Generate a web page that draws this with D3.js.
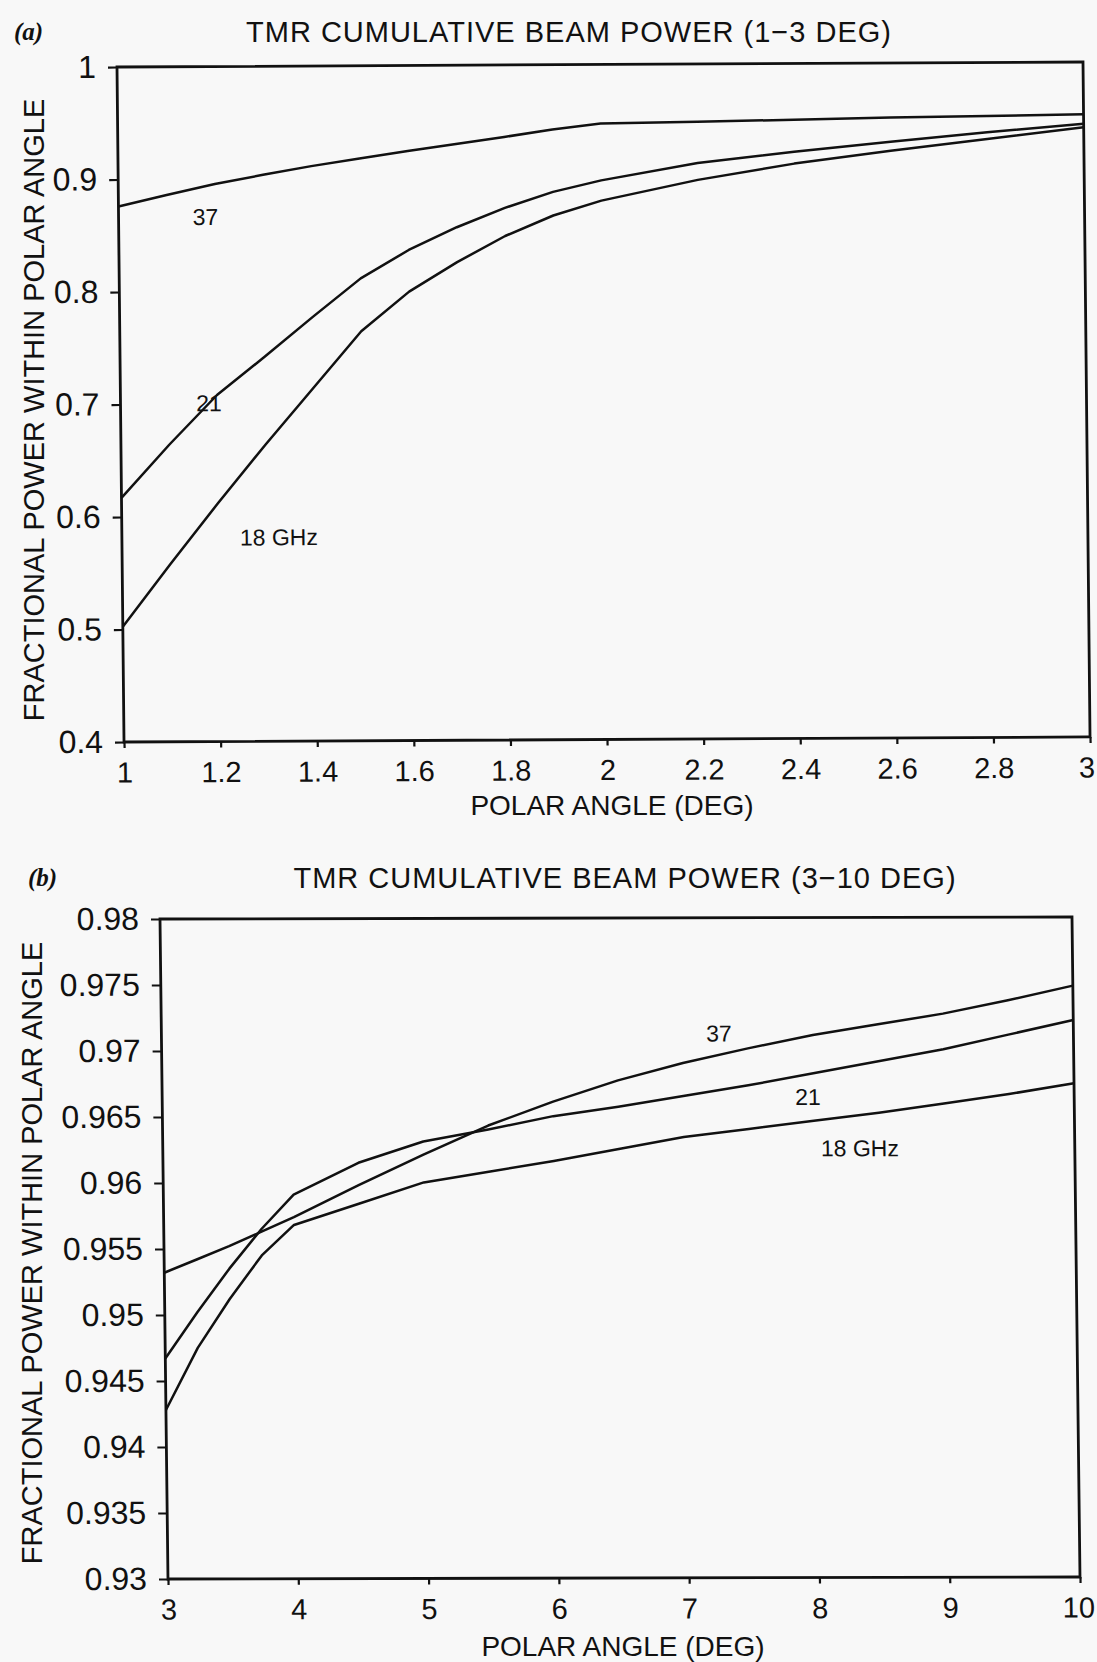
<!DOCTYPE html>
<html>
<head>
<meta charset="utf-8">
<script src="https://cdn.jsdelivr.net/npm/d3@7"></script>
<style>
  body { margin: 0; background: #f8f8f8; }
  svg { display: block; }
  text { font-family: "Liberation Sans", Arial, sans-serif; fill: #111; }
</style>
</head>
<body>
<svg id="fig" width="1097" height="1662"></svg>
<script>
// ---- panel (a): 1-3 deg ----
var anglesA = [1, 1.1, 1.2, 1.3, 1.4, 1.5, 1.6, 1.7, 1.8, 1.9, 2.0, 2.2, 2.4, 2.6, 2.8, 3.0];
var ghz37A = [0.876, 0.886, 0.8955, 0.9035, 0.911, 0.9175, 0.924, 0.930, 0.936, 0.9425, 0.9475, 0.9487, 0.950, 0.9515, 0.9525, 0.9535];
var ghz21A = [0.617, 0.664, 0.708, 0.742, 0.777, 0.811, 0.836, 0.856, 0.873, 0.887, 0.897, 0.912, 0.9216, 0.930, 0.938, 0.945];
var ghz18A = [0.5025, 0.558, 0.612, 0.664, 0.714, 0.764, 0.799, 0.825, 0.848, 0.866, 0.879, 0.897, 0.911, 0.922, 0.932, 0.942];
var xTicksA = [1, 1.2, 1.4, 1.6, 1.8, 2, 2.2, 2.4, 2.6, 2.8, 3];
var yTicksA = [0.4, 0.5, 0.6, 0.7, 0.8, 0.9, 1];
var labelsA = [
  {text: "37", x: 1.18, y: 0.8665},
  {text: "21", x: 1.183, y: 0.7009},
  {text: "18 GHz", x: 1.325, y: 0.5815}
];

// ---- panel (b): 3-10 deg ----
var anglesB = [3, 3.25, 3.5, 3.75, 4, 4.5, 5, 5.5, 6, 6.5, 7, 7.5, 8, 8.5, 9, 9.5, 10];
var ghz37B = [0.9532, 0.9542, 0.9552, 0.9563, 0.9574, 0.9598, 0.9621, 0.9643, 0.9661, 0.9677, 0.9690, 0.9701, 0.9711, 0.9719, 0.9727, 0.9737, 0.9748];
var ghz21B = [0.9467, 0.9502, 0.9535, 0.9565, 0.9591, 0.9615, 0.9631, 0.9640, 0.9650, 0.9657, 0.9665, 0.9673, 0.9682, 0.9691, 0.9700, 0.9711, 0.9722];
var ghz18B = [0.9428, 0.9475, 0.9512, 0.9545, 0.9568, 0.9584, 0.9600, 0.9608, 0.9616, 0.9625, 0.9634, 0.9640, 0.9646, 0.9652, 0.9659, 0.9666, 0.9674];
var xTicksB = [3, 4, 5, 6, 7, 8, 9, 10];
var yTicksB = [0.93, 0.935, 0.94, 0.945, 0.95, 0.955, 0.96, 0.965, 0.97, 0.975, 0.98];
var labelsB = [
  {text: "37", x: 7.28, y: 0.97125},
  {text: "21", x: 7.956, y: 0.96643},
  {text: "18 GHz", x: 8.35, y: 0.96254}
];

var svg = d3.select("#fig");
svg.append("rect").attr("width", 1097).attr("height", 1662).attr("fill", "#f8f8f8");

var fmt = d3.format("~g");

// draws one framed panel; the scan is slightly skewed so each panel gets a small shear
function drawPanel(p) {
  var g = svg.append("g")
    .attr("transform", "matrix(1," + p.skewY + "," + p.skewX + ",1," + p.left + "," + p.top + ")");

  var x = d3.scaleLinear().domain(p.xDomain).range([0, p.width]);
  var y = d3.scaleLinear().domain(p.yDomain).range([p.height, 0]);

  var xa = g.append("g")
    .attr("transform", "translate(0," + p.height + ")")
    .call(d3.axisBottom(x).tickValues(p.xTicks).tickFormat(fmt)
      .tickSize(6).tickSizeOuter(0).tickPadding(14));
  var ya = g.append("g")
    .call(d3.axisLeft(y).tickValues(p.yTicks).tickFormat(fmt)
      .tickSize(9).tickSizeOuter(0).tickPadding(12));

  [xa, ya].forEach(function(a) {
    a.attr("font-family", null).attr("font-size", null);
    a.select(".domain").remove();
    a.selectAll(".tick line").attr("stroke", "#111").attr("stroke-width", 2.2);
    a.selectAll(".tick text").attr("fill", "#111");
  });
  xa.selectAll(".tick text").style("font-size", "29px");
  ya.selectAll(".tick text").style("font-size", "32px");
  // last label sits right at the page edge in the scan
  xa.selectAll(".tick text").filter(function(d, i, n) { return i === n.length - 1; })
    .attr("dx", p.lastTickShift);

  g.append("rect")
    .attr("width", p.width).attr("height", p.height)
    .attr("fill", "none").attr("stroke", "#111").attr("stroke-width", 2.8);

  var line = d3.line()
    .x(function(d) { return x(d[0]); })
    .y(function(d) { return y(d[1]); });

  p.series.forEach(function(s) {
    g.append("path")
      .datum(d3.zip(p.angles, s))
      .attr("d", line)
      .attr("fill", "none")
      .attr("stroke", "#111")
      .attr("stroke-width", 2.5)
      .attr("stroke-linejoin", "round");
  });

  g.selectAll(".lab")
    .data(p.labels)
    .enter().append("text")
    .attr("x", function(d) { return x(d.x); })
    .attr("y", function(d) { return y(d.y); })
    .attr("dy", "0.36em")
    .attr("text-anchor", "middle")
    .style("font-size", "23px")
    .text(function(d) { return d.text; });

  // titles and axis names in page coordinates
  svg.append("text")
    .attr("x", p.titleX).attr("y", p.titleY)
    .attr("text-anchor", "middle")
    .style("font-size", "29px").style("letter-spacing", "1px")
    .text(p.title);

  svg.append("text")
    .attr("x", p.tagX).attr("y", p.titleY - 2)
    .style("font-family", "'Liberation Serif', serif")
    .style("font-style", "italic").style("font-weight", "bold")
    .style("font-size", "25px")
    .text(p.tag);

  svg.append("text")
    .attr("x", p.xLabelX).attr("y", p.xLabelY)
    .attr("text-anchor", "middle")
    .style("font-size", "28px")
    .text("POLAR ANGLE (DEG)");

  svg.append("text")
    .attr("transform", "translate(" + p.yLabelX + "," + p.yLabelY + ") rotate(-90)")
    .attr("text-anchor", "middle")
    .style("font-size", "29px")
    .text("FRACTIONAL POWER WITHIN POLAR ANGLE");
}

drawPanel({
  left: 117, top: 67, width: 966, height: 675,
  skewX: 0.0104, skewY: -0.0052,
  xDomain: [1, 3], yDomain: [0.4, 1],
  xTicks: xTicksA, yTicks: yTicksA, lastTickShift: -4,
  angles: anglesA, series: [ghz37A, ghz21A, ghz18A], labels: labelsA,
  title: "TMR CUMULATIVE BEAM POWER (1\u22123 DEG)", titleX: 569, titleY: 42,
  tag: "(a)", tagX: 14,
  xLabelX: 612, xLabelY: 815,
  yLabelX: 44, yLabelY: 410
});

drawPanel({
  left: 160, top: 919, width: 912, height: 660,
  skewX: 0.0121, skewY: -0.0022,
  xDomain: [3, 10], yDomain: [0.93, 0.98],
  xTicks: xTicksB, yTicks: yTicksB, lastTickShift: -2,
  angles: anglesB, series: [ghz37B, ghz21B, ghz18B], labels: labelsB,
  title: "TMR CUMULATIVE BEAM POWER (3\u221210 DEG)", titleX: 625, titleY: 888,
  tag: "(b)", tagX: 28,
  xLabelX: 623, xLabelY: 1656,
  yLabelX: 42, yLabelY: 1253
});
</script>
</body>
</html>
